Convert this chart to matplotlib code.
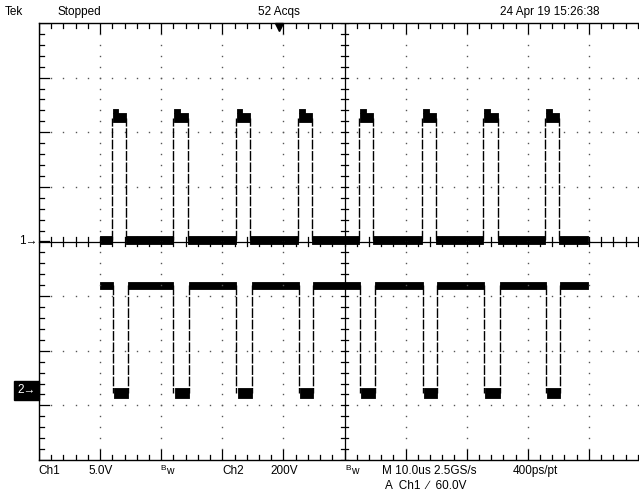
import numpy as np
import matplotlib
matplotlib.use('Agg')
import matplotlib.pyplot as plt

plt.rcParams['font.family'] = ['Liberation Sans', 'DejaVu Sans']

#screen setup (10 divs x 8 divs, right edge cropped)
us_per_div = 10.0
ch1_scale = 5.0      # V/div
ch2_scale = 200.0    # V/div
ch1_offset = 0.0     # div
ch2_offset = -2.72   # div
trig_pos_us = 39.3

#record span in us
t_start = 10.0
t_end = 89.8

#ch1 pulses (us)
ch1_rise = [11.9, 21.9, 32.2, 42.4, 52.4, 62.7, 72.7, 82.8]
ch1_fall = [14.2, 24.4, 34.5, 44.7, 54.7, 65.0, 75.1, 85.1]
ch1_low = (-0.25, 0.5)     # V, noisy floor band
ch1_high = (10.9, 11.8)    # V
ch1_overshoot = 12.1       # V

#ch2 pulses (us), inverted
ch2_fall = [12.1, 22.0, 32.3, 42.5, 52.5, 62.8, 72.8, 82.9]
ch2_rise = [14.5, 24.6, 34.8, 44.9, 55.0, 65.2, 75.4, 85.3]
ch2_low = (-29.0, 7.0)     # V
ch2_high = (370.0, 396.0)  # V

top_labels = ['Tek', 'Stopped', '52 Acqs', '24 Apr 19 15:26:38']
bottom_labels = ['Ch1', '5.0V', 'Ch2', '200V', 'M 10.0us 2.5GS/s', '400ps/pt']
trig_label = 'A  Ch1  \u2215  60.0V'

W, H = 639, 495
fig = plt.figure(figsize=(W/100.0, H/100.0), dpi=100)
fig.patch.set_facecolor('white')
# graticule: left edge at 39px, top 23px, bottom 460px, 61.1 px/div
ax = fig.add_axes([39.0/W, 35.0/H, 600.0/W, 437.0/H])
ax.set_xlim(0, 600/61.1)
ax.set_ylim(-4, 4)
ax.axis('off')

xmax = 600/61.1
k = 'black'

#dotted grid
for gx in range(1, 10):
    if gx == 5:
        continue
    yy = np.arange(-4, 4.01, 0.2)
    ax.plot(np.full(len(yy), gx), yy, ls='none', marker='s', ms=1.0,
            color='#555555', mec='none')
for gy in [-3, -2, -1, 1, 2, 3]:
    xx = np.arange(0, xmax, 0.2)
    ax.plot(xx, np.full(len(xx), gy), ls='none', marker='s', ms=1.0,
            color='#555555', mec='none')

#center cross with ticks
ax.plot([5, 5], [-4, 4], color=k, lw=0.9)
ax.plot([-0.0, xmax], [0, 0], color=k, lw=0.9, clip_on=False)
for tx in np.arange(0, xmax, 0.2):
    ax.plot([tx, tx], [-0.075, 0.075], color=k, lw=0.9)
for ty in np.arange(-4, 4.01, 0.2):
    ax.plot([5-0.065, 5+0.065], [ty, ty], color=k, lw=0.9)

#border with ticks
ax.plot([0, xmax], [4, 4], color=k, lw=1.0, clip_on=False)
ax.plot([0, xmax], [-4, -4], color=k, lw=1.0, clip_on=False)
ax.plot([0, 0], [-4, 4], color=k, lw=1.0, clip_on=False)
for i, tx in enumerate(np.arange(0, xmax, 0.2)):
    L = 0.18 if i % 5 == 0 else 0.09
    ax.plot([tx, tx], [4, 4-L], color=k, lw=0.9)
    ax.plot([tx, tx], [-4, -4+L], color=k, lw=0.9)
for i, ty in enumerate(np.arange(-4, 4.01, 0.2)):
    L = 0.16 if i % 5 == 0 else 0.08
    ax.plot([0, L], [ty, ty], color=k, lw=0.9)


def draw_trace(edges_a, edges_b, base, pulse, scale, offset, overshoot=None):
    #base level outside pulses, pulse level between edges_a and edges_b
    starts = [t_start] + list(edges_b)
    stops = list(edges_a) + [t_end]
    for a, b in zip(starts, stops):
        ax.fill_between([a/us_per_div, b/us_per_div],
                        base[0]/scale + offset, base[1]/scale + offset,
                        color=k, lw=0.6)
    for a, b in zip(edges_a, edges_b):
        ax.fill_between([a/us_per_div + 0.02, b/us_per_div],
                        pulse[0]/scale + offset, pulse[1]/scale + offset,
                        color=k, lw=0.6)
        if overshoot is not None:
            ax.fill_between([a/us_per_div + 0.02, a/us_per_div + 0.11],
                            pulse[1]/scale + offset, overshoot/scale + offset,
                            color=k, lw=0.6)
        mid_b = np.mean(base)/scale + offset
        mid_p = np.mean(pulse)/scale + offset
        for e in (a, b):
            ax.plot([e/us_per_div, e/us_per_div], [mid_b, mid_p], color=k,
                    lw=1.0, ls=(0, (7, 1.2)))


draw_trace(ch1_rise, ch1_fall, ch1_low, ch1_high, ch1_scale, ch1_offset,
           ch1_overshoot)
draw_trace(ch2_fall, ch2_rise, ch2_high, ch2_low, ch2_scale, ch2_offset)

#trigger position marker
ax.plot([trig_pos_us/us_per_div], [3.93], marker='v', ms=6, color=k,
        clip_on=False)

#channel ground markers
ax.text(-0.03, ch1_offset, '1\u2192', ha='right', va='center', fontsize=8.5,
        color=k, clip_on=False)
ax.text(-0.05, ch2_offset, '2\u2192', ha='right', va='center', fontsize=8.5,
        color='white', clip_on=False,
        bbox=dict(boxstyle='square,pad=0.3', fc=k, ec=k))

#readouts
fs = 8.5
def ftext(px, py, s, **kw):
    fig.text(px/float(W), 1 - py/float(H), s, fontsize=kw.pop('fontsize', fs),
             va='center', ha='left', color=k, **kw)

ftext(5, 12, top_labels[0])
ftext(58, 12, top_labels[1])
ftext(258, 12, top_labels[2])
ftext(500, 12, top_labels[3])

ftext(38, 471, bottom_labels[0])
ftext(88, 471, bottom_labels[1])
ftext(160, 469, 'B', fontsize=6)
ftext(166, 471, 'w', fontsize=7.5)
ftext(222, 471, bottom_labels[2])
ftext(270, 471, bottom_labels[3])
ftext(345, 469, 'B', fontsize=6)
ftext(351, 471, 'w', fontsize=7.5)
ftext(382, 471, bottom_labels[4])
ftext(513, 471, bottom_labels[5])
ftext(385, 486, trig_label)

fig.savefig('out.png', dpi=100, facecolor='white')
